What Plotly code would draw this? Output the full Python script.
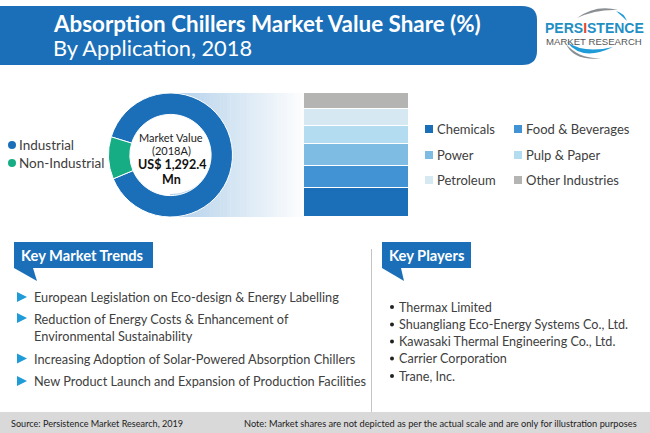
import plotly.graph_objects as go

W, H = 650, 433

# donut
share_names = ["Industrial", "Non-Industrial"]
share_values = [89, 11]
share_colors = ["#1b6fb8", "#17ad84"]

# stacked bar, bottom to top
app_names = ["Chemicals", "Food & Beverages", "Power", "Pulp & Paper", "Petroleum", "Other Industries"]
app_values = [23, 18.5, 17, 14.5, 14.5, 12.5]
app_colors = ["#1b6fb8", "#4193d3", "#7fbce4", "#b3dcf0", "#d6e9f3", "#b4b4b2"]

trends = [
    "European Legislation on Eco-design & Energy Labelling",
    "Reduction of Energy Costs & Enhancement of<br>Environmental Sustainability",
    "Increasing Adoption of Solar-Powered Absorption Chillers",
    "New Product Launch and Expansion of Production Facilities",
]
trend_y = [297, 327, 358.5, 381]
players = [
    "Thermax Limited",
    "Shuangliang Eco-Energy Systems Co., Ltd.",
    "Kawasaki Thermal Engineering Co., Ltd.",
    "Carrier Corporation",
    "Trane, Inc.",
]
player_y = [307, 324.5, 341.5, 358.5, 376]

FONT = "Lato"
DARK = "#404040"


def px(x):
    return x / W


def py(y):
    return 1 - y / H


def label(x, y, text, size=13, color=DARK, anchor="left", bold=False, family=FONT):
    if bold:
        text = "<b>" + text + "</b>"
    # annotations keep a small inner padding, so left-aligned text starts one pixel early
    if anchor == "left":
        x -= 1
    return dict(x=px(x), y=py(y), xref="paper", yref="paper", text=text, showarrow=False,
                xanchor=anchor, yanchor="middle", align=anchor, borderpad=0,
                font=dict(family=family, size=size, color=color))


def box(x0, y0, x1, y1, color, layer="below"):
    return dict(type="rect", xref="paper", yref="paper", x0=px(x0), x1=px(x1), y0=py(y0), y1=py(y1),
                fillcolor=color, line_width=0, layer=layer)


def path(points, color, layer="below"):
    d = "M" + " L".join(f"{px(a):.5f},{py(b):.5f}" for a, b in points) + " Z"
    return dict(type="path", xref="paper", yref="paper", path=d, fillcolor=color, line_width=0, layer=layer)


def swoosh(p0, c0, p1, c1, color):
    # crescent between two quadratic curves sharing their ends
    d = (f"M{px(p0[0])},{py(p0[1])} Q{px(c0[0])},{py(c0[1])} {px(p1[0])},{py(p1[1])} "
         f"Q{px(c1[0])},{py(c1[1])} {px(p0[0])},{py(p0[1])} Z")
    return dict(type="path", xref="paper", yref="paper", path=d, fillcolor=color, line_width=0, layer="below")


fig = go.Figure()

fig.add_trace(go.Pie(labels=share_names, values=share_values, hole=0.655, sort=False,
                     direction="clockwise", rotation=287, textinfo="none", showlegend=False,
                     marker=dict(colors=share_colors, line=dict(color="white", width=1)),
                     domain=dict(x=[px(108.5), px(232.5)], y=[py(217), py(93)])))

for name, val, col in zip(app_names, app_values, app_colors):
    fig.add_trace(go.Bar(x=["share"], y=[val], name=name, marker=dict(color=col, line=dict(color="white", width=1)),
                         showlegend=False))

fig.update_layout(
    width=W, height=H, margin=dict(l=0, r=0, t=0, b=0), autosize=False,
    paper_bgcolor="white", plot_bgcolor="rgba(0,0,0,0)", barmode="stack", bargap=0,
    xaxis=dict(domain=[px(304), px(409)], visible=False),
    yaxis=dict(domain=[py(217), py(93)], range=[0, 100], visible=False),
)

shapes = []

# fade behind the donut towards the bar
steps = 40
x_start, x_end = 170, 304
for i in range(steps):
    t = i / steps
    r = int(178 + (255 - 178) * t)
    g = int(208 + (255 - 208) * t)
    b = int(234 + (255 - 234) * t)
    x0 = x_start + (x_end - x_start) * t
    x1 = x_start + (x_end - x_start) * (i + 1) / steps
    shapes.append(box(x0, 93, x1 + 0.5, 217, f"rgb({r},{g},{b})"))
shapes.append(dict(type="circle", xref="paper", yref="paper", x0=px(125), x1=px(216), y0=py(194), y1=py(102),
                   fillcolor="white", line_width=0, layer="below"))

# header
r = 14
shapes.append(dict(type="path", xref="paper", yref="paper", fillcolor="#1b6fb8", line_width=0, layer="below",
                   path=f"M0,{py(6)} L{px(522)},{py(6)} Q{px(537)},{py(6)} {px(537)},{py(6 + r)} "
                        f"L{px(537)},{py(65 - r)} Q{px(537)},{py(65)} {px(522)},{py(65)} L0,{py(65)} Z"))

# callouts
shapes.append(box(14, 242, 153, 268, "#1b6fb8"))
shapes.append(path([(14, 268), (37, 281), (33, 268)], "#1b6fb8"))
shapes.append(box(382, 242, 471, 268, "#1b6fb8"))
shapes.append(path([(382, 268), (404, 281), (401, 268)], "#1b6fb8"))

# divider and footer
shapes.append(box(371, 249, 372, 412, "#c4c4c4"))
shapes.append(box(0, 412, 650, 433, "#d9d9d9"))

# bullets, the wrapped item has its arrow on the first line
for y, text in zip(trend_y, trends):
    y_mark = y - 9 if "<br>" in text else y
    shapes.append(path([(17, y_mark - 5), (17, y_mark + 5), (27, y_mark)], "#1f9bd8"))

annotations = [
    label(53, 23.5, "Absorption Chillers Market Value Share (%)", size=22.4, color="white", bold=True),
    label(53, 47.5, "By Application, 2018", size=21.8, color="white"),
    label(171, 137, "Market Value", size=11, color="#222222", anchor="center"),
    label(171, 150, "(2018A)", size=11, color="#222222", anchor="center"),
    label(172, 164, "US$ 1,292.4", size=12.5, color="#111111", anchor="center", bold=True),
    label(171, 179, "Mn", size=12.5, color="#111111", anchor="center", bold=True),
    label(19, 145, "Industrial", size=13.5),
    label(19, 163, "Non-Industrial", size=13.5),
    label(21, 255, "Key Market Trends", size=14.7, color="white", bold=True),
    label(389, 255, "Key Players", size=14.7, color="white", bold=True),
    label(11, 423, "Source: Persistence Market Research, 2019", size=9.1, color="#222222"),
    label(244, 423, "Note: Market shares are not depicted as per the actual scale and are only for illustration purposes",
          size=9.25, color="#222222"),
]

for x, y, col in [(12, 145, share_colors[0]), (12, 163, share_colors[1])]:
    shapes.append(dict(type="circle", xref="paper", yref="paper", x0=px(x - 4), x1=px(x + 4), y0=py(y + 4), y1=py(y - 4),
                       fillcolor=col, line_width=0, layer="below"))

legend_pos = [(425, 129), (514, 129), (425, 155), (514, 155), (425, 180), (514, 180)]
for (x, y), name, col in zip(legend_pos, app_names, app_colors):
    shapes.append(box(x, y - 4, x + 8, y + 4, col))
    annotations.append(label(x + 12, y, name, size=13))

for y, text in zip(trend_y, trends):
    annotations.append(label(34, y, text, size=12.75))
for y, text in zip(player_y, players):
    annotations.append(label(399, y, text, size=12.6))
    shapes.append(dict(type="circle", xref="paper", yref="paper", x0=px(390), x1=px(394), y0=py(y + 2), y1=py(y - 2),
                       fillcolor="#222222", line_width=0, layer="below"))

# logo
shapes.append(swoosh((577, 18), (596, 4), (618, 10), (596, 9), "#8a8f94"))
shapes.append(swoosh((616, 11), (624, 13), (627, 21), (622, 16), "#1f9bd8"))
shapes.append(swoosh((567, 42), (582, 62), (613, 47), (584, 54), "#1f9bd8"))
shapes.append(swoosh((566, 44), (574, 62), (604, 58), (580, 60), "#8a8f94"))
annotations.append(label(594, 28, 'PERS<span style="color:#e2462c">I</span>STENCE', size=14, color="#1f8fc4",
                         anchor="center", family="Liberation Sans", bold=True))
annotations.append(label(594, 41, "MARKET RESEARCH", size=9.6, color="#555555", anchor="center", family="Liberation Sans"))

fig.update_layout(shapes=shapes, annotations=annotations)
fig.write_html("out.html", config=dict(displayModeBar=False), post_script="document.body.style.margin='0';")
